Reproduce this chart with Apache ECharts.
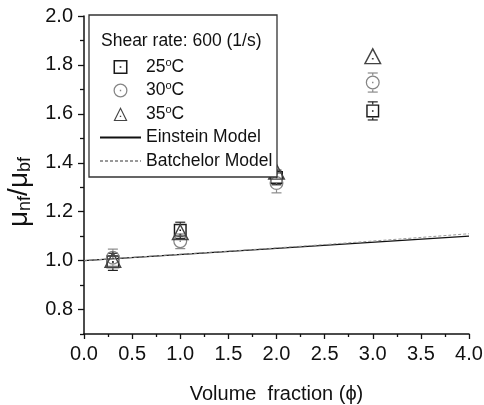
<html>
<head>
<meta charset="UTF-8"/>
<title>Relative viscosity vs volume fraction</title>
<script src="https://cdn.jsdelivr.net/npm/echarts@6/dist/echarts.min.js"></script>
</head>
<body style="margin:0;background:#fff;">
<div id="main" style="width:484px;height:405px;"></div>
<script>
// volume fraction (%) and relative viscosity
var phi = [0.3, 1.0, 2.0, 3.0];
var mu25 = [0.995, 1.124, 1.34, 1.612];
var err25 = [0.035, 0.033, 0.03, 0.037];
var mu30 = [1.012, 1.079, 1.317, 1.728];
var err30 = [0.035, 0.03, 0.04, 0.039];
var mu35 = [1.005, 1.118, 1.365, 1.837];
var err35 = [0.03, 0.03, 0.03, 0.033];

var phiEinstein = [0, 4];
var einstein = [1.0, 1.1];
var phiBatchelor = [0, 1, 2, 3, 4];
var batchelor = [1.0, 1.026, 1.052, 1.080, 1.11];

var yLabels = [0.8, 1.0, 1.2, 1.4, 1.6, 1.8, 2.0];
var yMinor = [0.7, 0.9, 1.1, 1.3, 1.5, 1.7, 1.9];

var FONT = "'Liberation Sans', Arial, sans-serif";

// hollow symbols with a dot in the middle (outer clockwise, hole counter-clockwise)
var SQUARE = 'path://M0 0H100V100H0Z M11 11V89H89V11Z M44 44H56V56H44Z';
var CIRCLE = 'path://M0 50A50 50 0 1 1 100 50A50 50 0 1 1 0 50Z M9 50A41 41 0 1 0 91 50A41 41 0 1 0 9 50Z M45 45H55V55H45Z';
var TRIANGLE = 'path://M50 0L100 100L0 100Z M50 17.9L12.95 92L87.05 92Z M45 62H55V72H45Z';

function pairs(xs, ys) {
    return xs.map(function (x, i) { return [x, ys[i]]; });
}
function triples(xs, ys, es) {
    return xs.map(function (x, i) { return [x, ys[i], es[i]]; });
}

function errorBars(name, data, color, half) {
    return {
        name: name,
        type: 'custom',
        data: data,
        z: 1,
        renderItem: function (params, api) {
            var x = api.value(0), y = api.value(1), e = api.value(2);
            var c = api.coord([x, y]);
            var hi = api.coord([x, y + e]);
            var lo = api.coord([x, y - e]);
            var style = {stroke: color, lineWidth: 1.2, fill: null};
            var kids = [];
            if (hi[1] < c[1] - half) {
                kids.push({type: 'line', shape: {x1: c[0], y1: c[1] - half, x2: c[0], y2: hi[1]}, style: style});
                kids.push({type: 'line', shape: {x1: c[0] - 5, y1: hi[1], x2: c[0] + 5, y2: hi[1]}, style: style});
            }
            if (lo[1] > c[1] + half) {
                kids.push({type: 'line', shape: {x1: c[0], y1: c[1] + half, x2: c[0], y2: lo[1]}, style: style});
                kids.push({type: 'line', shape: {x1: c[0] - 5, y1: lo[1], x2: c[0] + 5, y2: lo[1]}, style: style});
            }
            return {type: 'group', children: kids};
        }
    };
}

var myChart = echarts.init(document.getElementById('main'));

var option = {
    animation: false,
    backgroundColor: '#fff',
    textStyle: {fontFamily: FONT},
    grid: {left: 84, right: 15, top: 16, bottom: 71, outerBoundsMode: 'none', containLabel: false},
    xAxis: {
        type: 'value',
        min: 0,
        max: 4,
        interval: 0.5,
        name: 'Volume  fraction (\u03d5)',
        nameLocation: 'middle',
        nameGap: 50,
        nameTextStyle: {fontSize: 20, color: '#111', fontFamily: FONT},
        axisLine: {lineStyle: {color: '#111', width: 1.5}},
        axisTick: {length: 5, lineStyle: {color: '#111', width: 1.3}},
        minorTick: {show: true, splitNumber: 2, length: 3, lineStyle: {color: '#111', width: 1.3}},
        axisLabel: {fontSize: 20, color: '#111', margin: 10, fontFamily: FONT,
            formatter: function (v) { return v.toFixed(1); }},
        splitLine: {show: false}
    },
    yAxis: [{
        type: 'value',
        min: 0.7,
        max: 2.0,
        interval: 0.1,
        name: '{mu|\u03bc}{sub|nf}{mu|/\u03bc}{sub|bf}',
        nameLocation: 'middle',
        nameRotate: 90,
        nameGap: 48,
        nameTextStyle: {
            color: '#111',
            padding: [0, 34, 0, 0],
            rich: {
                mu: {fontSize: 28, lineHeight: 30, color: '#111', fontFamily: FONT},
                sub: {fontSize: 18, lineHeight: 18, verticalAlign: 'bottom', color: '#111', fontFamily: FONT}
            }
        },
        axisLine: {lineStyle: {color: '#111', width: 1.5}},
        axisTick: {customValues: yLabels, length: 6, lineStyle: {color: '#111', width: 1.3}},
        axisLabel: {customValues: yLabels, fontSize: 20, color: '#111', margin: 11, fontFamily: FONT,
            formatter: function (v) { return v.toFixed(1); }},
        splitLine: {show: false}
    }, {
        type: 'value',
        position: 'left',
        min: 0.7,
        max: 2.0,
        interval: 0.1,
        axisLine: {show: false},
        axisTick: {customValues: yMinor, length: 4, lineStyle: {color: '#111', width: 1.3}},
        axisLabel: {show: false},
        splitLine: {show: false}
    }],
    graphic: [{
        type: 'rect',
        z: 10,
        shape: {x: 89, y: 15, width: 188, height: 162},
        style: {fill: '#fff', stroke: '#333', lineWidth: 1.3}
    }, {
        type: 'text',
        z: 20,
        x: 101,
        y: 41,
        style: {text: 'Shear rate: 600 (1/s)', font: '17.5px ' + FONT, fill: '#111', verticalAlign: 'middle'}
    }],
    legend: {
        orient: 'vertical',
        left: 99,
        top: 57,
        z: 20,
        padding: 0,
        itemWidth: 41,
        itemHeight: 14,
        itemGap: 3.5,
        itemTextGap: 5,
        data: ['25\u00b0C', '30\u00b0C', '35\u00b0C', 'Einstein Model', 'Batchelor Model'],
        formatter: function (name) { return name.replace('\u00b0', '{sup|o}'); },
        textStyle: {
            fontSize: 17.5,
            lineHeight: 20,
            color: '#111',
            fontFamily: FONT,
            rich: {
                sup: {fontSize: 11, lineHeight: 11, verticalAlign: 'top', color: '#111', fontFamily: FONT}
            }
        }
    },
    series: [
        errorBars('e25', triples(phi, mu25, err25), '#222', 6.5),
        errorBars('e30', triples(phi, mu30, err30), '#8a8a8a', 7),
        errorBars('e35', triples(phi, mu35, err35), '#8a8a8a', 8.5),
        {
            name: 'Einstein Model',
            type: 'line',
            symbol: 'none',
            data: pairs(phiEinstein, einstein),
            lineStyle: {color: '#111', width: 1.2},
            itemStyle: {color: 'rgba(0,0,0,0)', borderWidth: 0},
            z: 3
        },
        {
            name: 'Batchelor Model',
            type: 'line',
            symbol: 'none',
            smooth: true,
            data: pairs(phiBatchelor, batchelor),
            lineStyle: {color: '#999', width: 1, type: [3, 2]},
            itemStyle: {color: 'rgba(0,0,0,0)', borderWidth: 0},
            z: 3
        },
        {
            name: '25\u00b0C',
            type: 'scatter',
            symbol: SQUARE,
            symbolSize: 13,
            data: pairs(phi, mu25),
            itemStyle: {color: '#1a1a1a', opacity: 1},
            z: 4
        },
        {
            name: '30\u00b0C',
            type: 'scatter',
            symbol: CIRCLE,
            symbolSize: 14,
            data: pairs(phi, mu30),
            itemStyle: {color: '#858585', opacity: 1},
            z: 4
        },
        {
            name: '35\u00b0C',
            type: 'scatter',
            symbol: TRIANGLE,
            symbolSize: [18, 17],
            data: pairs(phi, mu35),
            itemStyle: {color: '#444', opacity: 1},
            z: 4
        }
    ]
};
myChart.setOption(option);
</script>
</body>
</html>
